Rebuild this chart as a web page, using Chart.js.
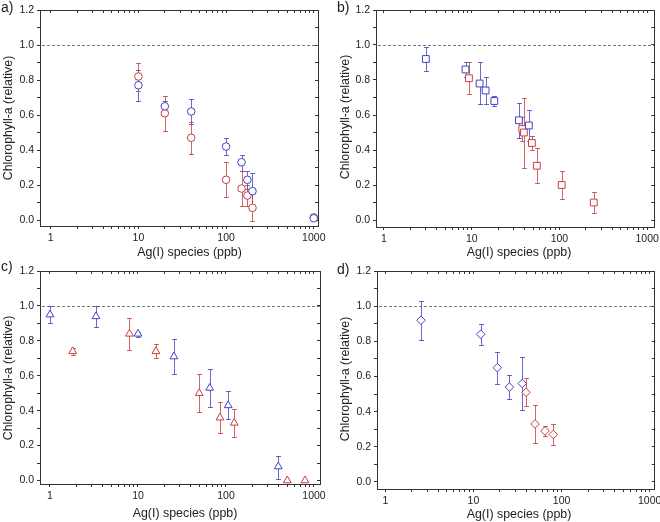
<!DOCTYPE html>
<html><head><meta charset="utf-8">
<script src="https://cdn.jsdelivr.net/npm/chart.js@4.4.1/dist/chart.umd.min.js"></script>
<style>
html,body{margin:0;padding:0;background:#fff;}
#wrap{position:relative;width:660px;height:522px;overflow:hidden;}
.p{position:absolute;width:330px;height:261px;}
canvas{display:block;}
</style></head><body>
<div id="wrap">
<div class="p" style="left:0;top:0"><canvas id="ca" width="330" height="261"></canvas></div>
<div class="p" style="left:330px;top:0"><canvas id="cb" width="330" height="261"></canvas></div>
<div class="p" style="left:0;top:261px"><canvas id="cc" width="330" height="261"></canvas></div>
<div class="p" style="left:330px;top:261px"><canvas id="cd" width="330" height="261"></canvas></div>
</div>
<script>
// ---------- data ----------
const xTickVals = [1, 10, 100, 1000];
const yTickVals = [0, 0.2, 0.4, 0.6, 0.8, 1.0, 1.2];
const refLevel = 1.0;
const xTitle = 'Ag(I) species (ppb)';
const yTitle = 'Chlorophyll-a (relative)';
const panelLabels = ['a)', 'b)', 'c)', 'd)'];

// panel a (circles)
const aBlueX  = [10, 20, 40, 100, 150, 175, 200, 1000];
const aBlueY  = [0.77, 0.65, 0.62, 0.42, 0.33, 0.23, 0.165, 0.01];
const aBlueHi = [0.86, 0.68, 0.69, 0.47, 0.37, 0.28, 0.27, 0.01];
const aBlueLo = [0.68, 0.62, 0.55, 0.37, 0.28, 0.18, 0.06, 0.01];
const aRedX   = [10, 20, 40, 100, 150, 175, 200, 1000];
const aRedY   = [0.82, 0.61, 0.47, 0.23, 0.18, 0.14, 0.07, 0.015];
const aRedHi  = [0.90, 0.71, 0.56, 0.33, 0.28, 0.20, 0.155, 0.015];
const aRedLo  = [0.74, 0.51, 0.38, 0.13, 0.08, 0.08, -0.005, 0.015];

// panel b (squares)
const bBlueX  = [3.0, 8.5, 12.3, 14.4, 18.1, 34.5, 44.8];
const bBlueY  = [0.92, 0.86, 0.78, 0.74, 0.68, 0.57, 0.54];
const bBlueHi = [0.99, 0.90, 0.90, 0.82, 0.71, 0.67, 0.63];
const bBlueLo = [0.85, 0.82, 0.66, 0.66, 0.65, 0.47, 0.45];
const bRedX   = [9.3, 37.7, 39.3, 48.5, 55.2, 106, 246];
const bRedY   = [0.81, 0.52, 0.50, 0.44, 0.31, 0.20, 0.10];
const bRedHi  = [0.90, 0.59, 0.70, 0.48, 0.41, 0.28, 0.16];
const bRedLo  = [0.72, 0.45, 0.30, 0.40, 0.21, 0.12, 0.04];

// panel c (triangles)
const cBlueX  = [1.0, 3.33, 10, 25.6, 65.3, 106, 393];
const cBlueY  = [0.95, 0.94, 0.84, 0.71, 0.53, 0.43, 0.08];
const cBlueHi = [1.00, 1.00, 0.85, 0.81, 0.64, 0.51, 0.14];
const cBlueLo = [0.90, 0.88, 0.82, 0.61, 0.42, 0.35, 0.01];
const cRedX   = [1.81, 8.0, 16, 49.7, 85.5, 124, 497, 790];
const cRedY   = [0.74, 0.84, 0.74, 0.50, 0.36, 0.33, 0.0, 0.0];
const cRedHi  = [0.76, 0.93, 0.78, 0.61, 0.45, 0.41, 0.0, 0.0];
const cRedLo  = [0.72, 0.75, 0.70, 0.39, 0.27, 0.25, 0.0, 0.0];

// panel d (diamonds)
const dBlueX  = [2.54, 12.1, 18.7, 25.6, 35.9];
const dBlueY  = [0.92, 0.84, 0.65, 0.54, 0.56];
const dBlueHi = [1.03, 0.90, 0.74, 0.61, 0.71];
const dBlueLo = [0.81, 0.78, 0.56, 0.47, 0.41];
const dRedX   = [39.5, 50, 64.9, 80.6];
const dRedY   = [0.51, 0.33, 0.29, 0.27];
const dRedHi  = [0.59, 0.44, 0.32, 0.33];
const dRedLo  = [0.43, 0.22, 0.26, 0.21];

// ---------- styles / layout ----------
const BLUE = '#4343c6', RED = '#c63f3f';
const BLUE_ERR = 'rgba(67,67,198,0.8)', RED_ERR = 'rgba(198,63,63,0.8)';
const FRAME = '#333333';
const FONT = "'Liberation Sans', Arial, sans-serif";

// minor tick positions (log decades 1..9 and 0.1 steps), labels only on the named tick values
const xAllTicks = [];
xTickVals.forEach(d => { for (let m = 1; m <= 9; m++) xAllTicks.push(m * d); });
const yAllTicks = [];
for (let k = 0; k <= 12; k++) yAllTicks.push(k / 10);

const panels = [
  {id:'ca', style:'circle',   r:3.8, yW:40, xH:35, padR:12, xmin:0.755, xmax:1117, ymin:-0.034,
   lab:[1,8], yt:[8.5,118], xt:[189.5,253],
   blue:[aBlueX,aBlueY,aBlueHi,aBlueLo], red:[aRedX,aRedY,aRedHi,aRedLo]},
  {id:'cb', style:'rect',     r:4.8, yW:46, xH:34, padR:5, xmin:0.811, xmax:1202, ymin:-0.04,
   lab:[7,8], yt:[15.5,117], xt:[189,253],
   blue:[bBlueX,bBlueY,bBlueHi,bBlueLo], red:[bRedX,bRedY,bRedHi,bRedLo]},
  {id:'cc', style:'triangle', r:4.5, yW:40, xH:38, padR:10, xmin:0.77, xmax:1170, ymin:-0.02,
   lab:[1,6], yt:[8.5,117], xt:[185,253],
   blue:[cBlueX,cBlueY,cBlueHi,cBlueLo], red:[cRedX,cRedY,cRedHi,cRedLo]},
  {id:'cd', style:'rectRot',  r:4.3, yW:47, xH:33, padR:5, xmin:0.805, xmax:1140, ymin:-0.04,
   lab:[7,9], yt:[15.5,118], xt:[189,254],
   blue:[dBlueX,dBlueY,dBlueHi,dBlueLo], red:[dRedX,dRedY,dRedHi,dRedLo]}
];

function seg(ctx, x1, y1, x2, y2) {
  ctx.beginPath(); ctx.moveTo(x1, y1); ctx.lineTo(x2, y2); ctx.stroke();
}

const decor = {
  id: 'decor',
  beforeDatasetsDraw(chart, args, o) {
    const ctx = chart.ctx, xs = chart.scales.x, ys = chart.scales.y;
    ctx.save();
    ctx.strokeStyle = '#7a7a7a'; ctx.lineWidth = 1; ctx.setLineDash([3, 2]);
    const yy = Math.round(ys.getPixelForValue(refLevel)) + 0.5;
    seg(ctx, xs.left + 2, yy, xs.right, yy);
    ctx.restore();
    ctx.save();
    chart.data.datasets.forEach(ds => {
      if (!ds.errHi) return;
      ctx.fillStyle = ds.errColor;
      ds.data.forEach((p, i) => {
        const px = Math.round(xs.getPixelForValue(p.x));
        const hi = Math.round(ys.getPixelForValue(ds.errHi[i]));
        const lo = Math.round(ys.getPixelForValue(ds.errLo[i]));
        if (lo - hi < 1) return;
        ctx.fillRect(px, hi, 1, lo - hi + 1);
        ctx.fillRect(px - 2, hi, 5, 1);
        ctx.fillRect(px - 2, lo, 5, 1);
      });
    });
    ctx.restore();
  },
  afterDraw(chart, args, o) {
    const ctx = chart.ctx;
    ctx.save();
    ctx.fillStyle = '#222';
    ctx.textAlign = 'center'; ctx.textBaseline = 'middle';
    ctx.font = '12.4px ' + FONT;
    ctx.fillText(xTitle, o.xt[0], o.xt[1]);
    ctx.save();
    ctx.translate(o.yt[0], o.yt[1]); ctx.rotate(-Math.PI / 2);
    ctx.fillText(yTitle, 0, 0);
    ctx.restore();
    ctx.textAlign = 'left';
    ctx.font = '14px ' + FONT;
    ctx.fillText(o.label, o.lab[0], o.lab[1]);
    ctx.restore();
  }
};

function mkDs(arr, color, errColor, p) {
  return {
    data: arr[0].map((x, i) => ({x: x, y: arr[1][i]})),
    errHi: arr[2], errLo: arr[3], errColor: errColor,
    pointStyle: p.style, pointRadius: p.r, pointHoverRadius: p.r,
    pointBorderWidth: 1, borderColor: color, pointBorderColor: color,
    pointBackgroundColor: '#fff', backgroundColor: '#fff', showLine: false
  };
}

function frameGrid(len) {
  return { display: true, drawOnChartArea: false, drawTicks: true, tickLength: len,
           color: FRAME, tickColor: FRAME, lineWidth: 1 };
}
const frameBorder = { display: true, color: FRAME, width: 1 };
const isMajorX = v => xTickVals.some(t => Math.abs(t - v) < 1e-9);
const isMajorY = v => yTickVals.some(t => Math.abs(t - v) < 1e-9);

panels.forEach((p, idx) => {
  new Chart(document.getElementById(p.id), {
    type: 'scatter',
    data: { datasets: [ mkDs(p.blue, BLUE, BLUE_ERR, p), mkDs(p.red, RED, RED_ERR, p) ] },
    options: {
      responsive: false, animation: false, devicePixelRatio: 1,
      layout: { padding: { left: 0, top: 10, right: p.padR, bottom: 0 } },
      plugins: {
        legend: { display: false }, tooltip: { enabled: false },
        decor: { label: panelLabels[idx], lab: p.lab, yt: p.yt, xt: p.xt }
      },
      scales: {
        x: {
          type: 'logarithmic', position: 'bottom', min: p.xmin, max: p.xmax,
          grid: frameGrid(3), border: frameBorder,
          afterBuildTicks: s => { s.ticks = xAllTicks.filter(v => v >= p.xmin && v <= p.xmax).map(v => ({value: v, major: isMajorX(v)})); },
          afterFit: s => { s.height = p.xH; s.paddingLeft = 0; s.paddingRight = 0; },
          ticks: { autoSkip: false, maxRotation: 0, minRotation: 0, padding: 3,
                   color: '#222', font: { family: FONT, size: 10.5 },
                   callback: v => isMajorX(v) ? String(v) : '' }
        },
        x2: {
          type: 'logarithmic', position: 'top', min: p.xmin, max: p.xmax,
          grid: frameGrid(-3), border: frameBorder,
          afterBuildTicks: s => { s.ticks = xAllTicks.filter(v => v >= p.xmin && v <= p.xmax).map(v => ({value: v})); },
          afterFit: s => { s.height = 0; s.paddingLeft = 0; s.paddingRight = 0; },
          ticks: { display: false, autoSkip: false }
        },
        y: {
          type: 'linear', position: 'left', min: p.ymin, max: 1.2,
          grid: frameGrid(3), border: frameBorder,
          afterBuildTicks: s => { s.ticks = yAllTicks.map(v => ({value: v})); },
          afterFit: s => { s.width = p.yW; s.paddingTop = 0; s.paddingBottom = 0; },
          ticks: { autoSkip: false, padding: 3, color: '#222', font: { family: FONT, size: 10.5 },
                   callback: v => isMajorY(v) ? Number(v).toFixed(1) : '' }
        },
        y2: {
          type: 'linear', position: 'right', min: p.ymin, max: 1.2,
          grid: frameGrid(-3), border: frameBorder,
          afterBuildTicks: s => { s.ticks = yAllTicks.map(v => ({value: v})); },
          afterFit: s => { s.width = 0; s.paddingTop = 0; s.paddingBottom = 0; },
          ticks: { display: false, autoSkip: false }
        }
      }
    },
    plugins: [decor]
  });
});
</script>
</body></html>
